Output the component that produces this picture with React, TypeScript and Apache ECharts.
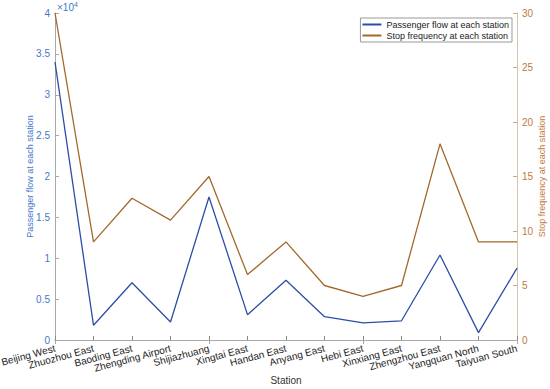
import React, { useEffect, useRef } from "react";
import * as echarts from "echarts";

const stations = [
  "Beijing West", "Zhuozhou East", "Baoding East", "Zhengding Airport", "Shijiazhuang",
  "Xingtai East", "Handan East", "Anyang East", "Hebi East", "Xinxiang East",
  "Zhengzhou East", "Yangquan North", "Taiyuan South",
];
const passengerFlow = [34000, 1800, 7000, 2200, 17500, 3100, 7300, 2850, 2100, 2350, 10400, 900, 8800];
const stopFrequency = [30, 9, 13, 11, 15, 6, 9, 5, 4, 5, 18, 9, 9];
const leftTicks = [0, 0.5, 1, 1.5, 2, 2.5, 3, 3.5, 4];

const BLUE_LINE = "#2D4EA6";
const BLUE_TEXT = "#4479C9";
const BROWN_LINE = "#A3692B";
const BROWN_TEXT = "#C07A3C";
const FONT = "Liberation Sans, Arial, sans-serif";

export default function App() {
  const ref = useRef<HTMLDivElement>(null);
  useEffect(() => {
    const chart = echarts.init(ref.current!, undefined, { renderer: "svg" });
    chart.setOption({
      animation: false,
      textStyle: { fontFamily: FONT },
      grid: { left: 55, right: 33, top: 13, bottom: 49, containLabel: false, outerBoundsMode: "none" },
      legend: {
        right: 38,
        top: 18,
        orient: "vertical",
        itemWidth: 19,
        itemHeight: 2,
        itemGap: 2,
        padding: [2, 3, 2, 2],
        borderColor: "#999",
        borderWidth: 1,
        backgroundColor: "#fff",
        textStyle: { fontSize: 9, color: "#222", fontFamily: FONT },
        icon: "rect",
        data: ["Passenger flow at each station", "Stop frequency at each station"],
      },
      xAxis: [
        {
          type: "category",
          data: stations,
          boundaryGap: false,
          name: "Station",
          nameLocation: "middle",
          nameGap: 35,
          nameMoveOverlap: false,
          nameTextStyle: { fontSize: 10, color: "#333" },
          axisLine: { lineStyle: { color: "#888" } },
          axisTick: { inside: true, length: 4, alignWithLabel: true, lineStyle: { color: "#888" } },
          axisLabel: { rotate: 15, fontSize: 10, color: "#222", interval: 0, margin: 8 },
          splitLine: { show: false },
        },
        {
          type: "category",
          data: stations,
          boundaryGap: false,
          position: "top",
          axisLine: { lineStyle: { color: "#aaa" } },
          axisTick: { inside: true, length: 4, lineStyle: { color: "#aaa" } },
          axisLabel: { show: false },
          splitLine: { show: false },
        },
      ],
      yAxis: [
        {
          type: "value",
          min: 0,
          max: 40000,
          interval: 5000,
          name: "Passenger flow at each station",
          nameLocation: "middle",
          nameGap: 21,
          nameMoveOverlap: false,
          nameTextStyle: { fontSize: 9, color: BLUE_TEXT },
          axisLine: { show: true, lineStyle: { color: "#aaa" } },
          axisTick: { show: true, inside: true, length: 4, lineStyle: { color: "#aaa" } },
          axisLabel: {
            fontSize: 10,
            color: BLUE_TEXT,
            margin: 5,
            formatter: (v: number) => String(leftTicks[Math.round(v / 5000)]),
          },
          splitLine: { show: false },
        },
        {
          type: "value",
          min: 0,
          max: 30,
          interval: 5,
          name: "Stop frequency at each station",
          nameLocation: "middle",
          nameGap: 20,
          nameRotate: 90,
          nameMoveOverlap: false,
          nameTextStyle: { fontSize: 9, color: BROWN_TEXT },
          axisLine: { show: true, lineStyle: { color: "#D8C3A8" } },
          axisTick: { show: true, inside: true, length: 4, lineStyle: { color: "#C8A888" } },
          axisLabel: { fontSize: 10, color: BROWN_TEXT, margin: 5 },
          splitLine: { show: false },
        },
      ],
      graphic: [
        {
          type: "text",
          left: 57,
          top: 1,
          style: {
            text: "×10{s|4}",
            fontSize: 10,
            fill: BLUE_TEXT,
            fontFamily: FONT,
            rich: { s: { fontSize: 7, verticalAlign: "top", fill: BLUE_TEXT, padding: [0, 0, 5, 0] } },
          },
        },
      ],
      series: [
        {
          name: "Passenger flow at each station",
          type: "line",
          data: passengerFlow,
          xAxisIndex: 0,
          yAxisIndex: 0,
          symbol: "none",
          lineStyle: { color: BLUE_LINE, width: 1.3 },
          itemStyle: { color: BLUE_LINE },
        },
        {
          name: "Stop frequency at each station",
          type: "line",
          data: stopFrequency,
          xAxisIndex: 0,
          yAxisIndex: 1,
          symbol: "none",
          lineStyle: { color: BROWN_LINE, width: 1.3 },
          itemStyle: { color: BROWN_LINE },
        },
      ],
    });
    return () => chart.dispose();
  }, []);
  return <div ref={ref} style={{ width: 550, height: 389, position: "absolute", left: 0, top: 0, background: "#fff" }} />;
}
